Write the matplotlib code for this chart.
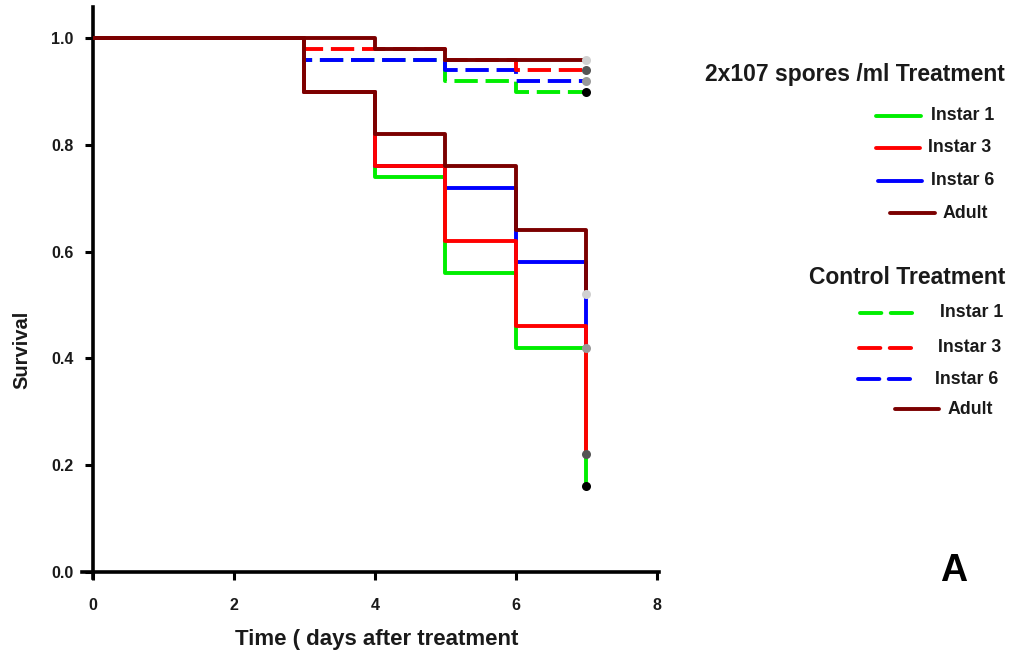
import matplotlib
matplotlib.use("Agg")
import matplotlib.pyplot as plt
from matplotlib.lines import Line2D

plt.rcParams['font.family'] = ['Liberation Sans', 'DejaVu Sans']
plt.rcParams['font.weight'] = 'bold'
plt.rcParams['text.color'] = '#1a1a1a'

# days on which survival was recorded
days = [0, 3, 4, 5, 6, 7]

# 2x10^7 spores/ml treatment
trt_instar1 = [1.00, 0.90, 0.74, 0.56, 0.42, 0.16]
trt_instar3 = [1.00, 0.90, 0.76, 0.62, 0.46, 0.22]
trt_instar6 = [1.00, 0.90, 0.76, 0.72, 0.58, 0.42]
trt_adult = [1.00, 0.90, 0.82, 0.76, 0.64, 0.52]

# control treatment
ctl_instar1 = [1.00, 0.96, 0.96, 0.92, 0.90, 0.90]
ctl_instar3 = [1.00, 0.98, 0.98, 0.96, 0.94, 0.94]
ctl_instar6 = [1.00, 0.96, 0.96, 0.94, 0.92, 0.92]
ctl_adult = [1.00, 1.00, 0.98, 0.96, 0.96, 0.96]

GREEN, RED, BLUE, BROWN = '#00ee00', '#ff0000', '#0000ff', '#7b0000'
# end-point markers, one shade per stage
END = {'i1': '#000000', 'i3': '#555555', 'i6': '#999999', 'ad': '#d0d0d0'}
LW = 2.8
DASH = (6, 2)

fig = plt.figure(figsize=(10.14, 6.59), dpi=100)
ax = fig.add_axes([0.081, 0.123, 0.569, 0.866])

def km(y, color, z, end, dashed=False):
    kw = dict(where='post', color=color, lw=LW, zorder=z, solid_capstyle='butt')
    line, = ax.step(days, y, **kw)
    if dashed:
        line.set_dashes(DASH)
    ax.plot(days[-1], y[-1], 'o', ms=6.5, color=end, mec='none', zorder=20)

km(trt_instar1, GREEN, 3, END['i1'])
km(trt_instar6, BLUE, 4, END['i6'])
km(trt_instar3, RED, 5, END['i3'])

km(ctl_instar1, GREEN, 6, END['i1'], dashed=True)
km(ctl_instar6, BLUE, 7, END['i6'], dashed=True)
km(ctl_instar3, RED, 7, END['i3'], dashed=True)
km(ctl_adult, BROWN, 8, END['ad'])

km(trt_adult, BROWN, 10, END['ad'])

ax.set_xlim(-0.15, 8.03)
ax.set_ylim(-0.012, 1.058)
ax.set_xticks([0, 2, 4, 6, 8])
ax.set_yticks([0.0, 0.2, 0.4, 0.6, 0.8, 1.0])
ax.set_yticklabels(['0.0', '0.2', '0.4', '0.6', '0.8', '1.0'])
for s in ['top', 'right']:
    ax.spines[s].set_visible(False)
ax.spines['left'].set_position(('data', 0))
ax.spines['bottom'].set_position(('data', 0))
for s in ['left', 'bottom']:
    ax.spines[s].set_linewidth(2.6)
ax.tick_params(direction='out', length=6, width=2.2, labelsize=11.5, pad=8,
               labelcolor='#1a1a1a')
ax.tick_params(axis='x', pad=13)
for t in ax.get_xticklabels() + ax.get_yticklabels():
    t.set_fontweight('bold')

fig.text(22 / 1014, 1 - 350 / 659, 'Survival', rotation=90, fontsize=14.5,
         fontweight='bold', ha='center', va='center')
fig.text(377 / 1014, 1 - 639 / 659, 'Time ( days after treatment', fontsize=16,
         fontweight='bold', ha='center', va='center')
fig.text(954 / 1014, 1 - 571 / 659, 'A', fontsize=27, fontweight='bold',
         ha='center', va='center', color='black')

# legend block on the right, in pixel positions
def px(x, y):
    return x / 1014, 1 - y / 659

def key(x0, x1, y, color, label, tx, dashed=False):
    (a, b), (c, _) = px(x0, y), px(x1, y)
    ln = Line2D([a, c], [b, b], color=color, lw=LW, transform=fig.transFigure,
                solid_capstyle='round', dash_capstyle='round')
    if dashed:
        ln.set_dashes((5.5, 2.4))
    fig.add_artist(ln)
    fig.text(*px(tx, y), label, fontsize=12.8, fontweight='bold', va='center', ha='left')

fig.text(*px(1005, 74), '2x107 spores /ml Treatment', fontsize=16.5,
         fontweight='bold', ha='right', va='center')
key(876, 921, 116, GREEN, 'Instar 1', 931)
key(876, 920, 148, RED, 'Instar 3', 928)
key(878, 922, 181, BLUE, 'Instar 6', 931)
key(890, 935, 213, BROWN, 'Adult', 943)

fig.text(*px(1005, 277), 'Control Treatment', fontsize=16.5,
         fontweight='bold', ha='right', va='center')
key(860, 915, 313, GREEN, 'Instar 1', 940, dashed=True)
key(859, 915, 348, RED, 'Instar 3', 938, dashed=True)
key(858, 913, 379, BLUE, 'Instar 6', 935, dashed=True)
key(895, 939, 409, BROWN, 'Adult', 948)

fig.savefig('out.png', dpi=100)
